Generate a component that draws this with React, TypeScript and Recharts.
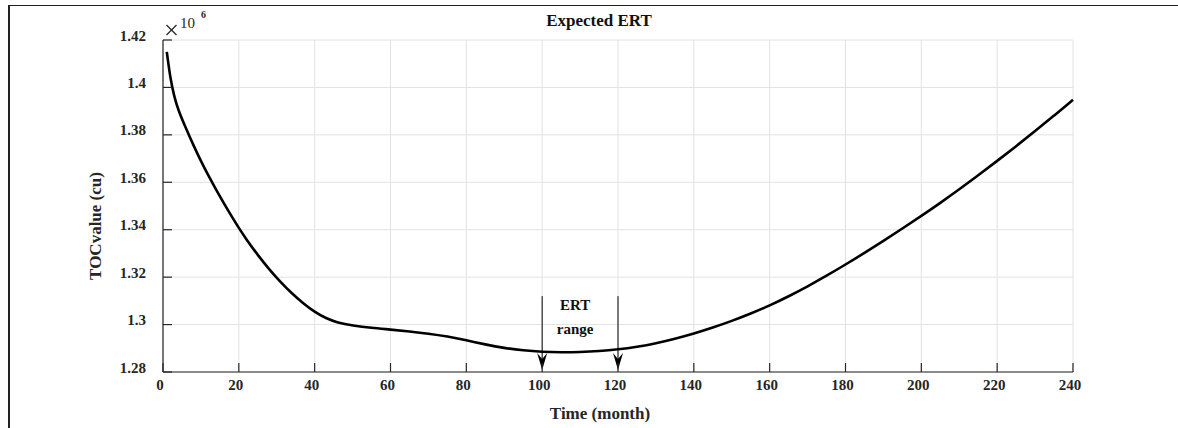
import React from 'react';
import { LineChart, Line, XAxis, YAxis, CartesianGrid, ReferenceLine, ReferenceDot } from 'recharts';

const months = [1, 2, 3, 4, 6, 8, 10, 12, 14, 16, 18, 20, 22, 25, 28, 31, 34, 37, 40, 43, 46, 50, 55, 60, 65, 70, 75, 80, 85, 90, 95, 100, 105, 110, 115, 120, 125, 130, 135, 140, 145, 150, 155, 160, 165, 170, 175, 180, 185, 190, 195, 200, 205, 210, 215, 220, 225, 230, 235, 240];
const tocValues = [1.4150, 1.4030, 1.3960, 1.3905, 1.3829, 1.3757, 1.3689, 1.3627, 1.3569, 1.3513, 1.3459, 1.3407, 1.3359, 1.3293, 1.3233, 1.3179, 1.3131, 1.3089, 1.3053, 1.3026, 1.3008, 1.2996, 1.2986, 1.2979, 1.2971, 1.2962, 1.2950, 1.2934, 1.2916, 1.2901, 1.2891, 1.2885, 1.2883, 1.2884, 1.2888, 1.2895, 1.2906, 1.2921, 1.2940, 1.2962, 1.2987, 1.3015, 1.3046, 1.3080, 1.3119, 1.3161, 1.3206, 1.3253, 1.3302, 1.3353, 1.3405, 1.3458, 1.3513, 1.3570, 1.3629, 1.3690, 1.3752, 1.3816, 1.3881, 1.3948];

const xTicks = [0, 20, 40, 60, 80, 100, 120, 140, 160, 180, 200, 220, 240];
const yTicks = [1.28, 1.30, 1.32, 1.34, 1.36, 1.38, 1.40, 1.42];
const yTickLabels = ['1.28', '1.3', '1.32', '1.34', '1.36', '1.38', '1.4', '1.42'];

const ertRange = [100, 120];
const arrowTop = 1.312;
const arrowTip = 1.2808;
const ertLabel = { x: 108.7, y: 1.3086, text: 'ERT' };
const rangeLabel = { x: 108.7, y: 1.2981, text: 'range' };

const data = months.map((m, i) => ({ month: m, toc: tocValues[i] }));

const FONT = '"Liberation Serif", "Times New Roman", serif';
const AXIS = '#262626';
const TICK_LEN = 9;

const BottomTick = (p: any) => {
  const { x, y, payload } = p;
  return (
    <g>
      <line x1={x} y1={y} x2={x} y2={y - TICK_LEN} stroke={AXIS} strokeWidth={1.2} />
      <text x={x - 3} y={y + 13} textAnchor="middle" dominantBaseline="central" fontFamily={FONT} fontWeight="bold" fontSize={15} fill="#262626">
        {payload.value}
      </text>
    </g>
  );
};
const TopTick = (p: any) => {
  const { x, y } = p;
  return <line x1={x} y1={y} x2={x} y2={y + TICK_LEN} stroke={AXIS} strokeWidth={1.2} />;
};
const LeftTick = (p: any) => {
  const { x, y, index } = p;
  return (
    <g>
      <line x1={x} y1={y} x2={x + TICK_LEN} y2={y} stroke={AXIS} strokeWidth={1.2} />
      <text x={x - 17} y={y - 4.5} textAnchor="end" dominantBaseline="central" fontFamily={FONT} fontWeight="bold" fontSize={15} fill="#262626">
        {yTickLabels[index]}
      </text>
    </g>
  );
};
const RightTick = (p: any) => {
  const { x, y } = p;
  return <line x1={x} y1={y} x2={x - TICK_LEN} y2={y} stroke={AXIS} strokeWidth={1.2} />;
};

const ArrowShape = (p: any) => {
  const { x1, y1, x2, y2 } = p;
  const x = x1;
  const tip = Math.max(y1, y2);
  const top = Math.min(y1, y2);
  return (
    <g>
      <line x1={x} y1={top} x2={x} y2={tip - 8} stroke="#000" strokeWidth={1} />
      <path d={`M${x},${tip} L${x - 5},${tip - 17} L${x},${tip - 11} L${x + 5},${tip - 17} Z`} fill="#000" />
    </g>
  );
};

const textLabel = (value: string) => ({
  value,
  position: 'center' as const,
  style: { fontFamily: FONT, fontWeight: 'bold', fontSize: 15, fill: '#111' },
});

export default function App() {
  return (
    <div style={{ position: 'relative', width: 1178, height: 428, overflow: 'hidden', background: '#fff' }}>
      <style>{`body{margin:0;overflow:hidden;background:#fff}`}</style>
      <div style={{ position: 'absolute', left: 7.5, top: 5, width: 1300, height: 600, borderTop: '1.8px solid #222', borderLeft: '2px solid #222' }} />
      <div style={{ position: 'absolute', left: 0, top: 0 }}>
        <LineChart width={1178} height={428} data={data} margin={{ top: 40, right: 105, bottom: 26, left: 103 }}>
          <CartesianGrid stroke="#e2e2e2" strokeWidth={1} horizontalValues={yTicks} verticalValues={xTicks} />
          <XAxis dataKey="month" type="number" domain={[0, 240]} ticks={xTicks} interval={0} height={30}
            tickLine={false} tickSize={0} tickMargin={0} axisLine={{ stroke: AXIS, strokeWidth: 1.2 }} tick={<BottomTick />} />
          <XAxis xAxisId="top" orientation="top" type="number" domain={[0, 240]} ticks={xTicks} interval={0} height={0}
            tickLine={false} tickSize={0} tickMargin={0} axisLine={{ stroke: AXIS, strokeWidth: 1.2 }} tick={<TopTick />} />
          <YAxis type="number" domain={[1.28, 1.42]} ticks={yTicks} interval={0} width={60}
            tickLine={false} tickSize={0} tickMargin={0} axisLine={{ stroke: AXIS, strokeWidth: 1.2 }} tick={<LeftTick />} />
          <YAxis yAxisId="right" orientation="right" type="number" domain={[1.28, 1.42]} ticks={yTicks} interval={0} width={0}
            tickLine={false} tickSize={0} tickMargin={0} axisLine={{ stroke: AXIS, strokeWidth: 1.2 }} tick={<RightTick />} />
          <Line type="basis" dataKey="toc" stroke="#000" strokeWidth={2.6} dot={false} isAnimationActive={false} />
          {ertRange.map((m) => (
            <ReferenceLine key={m} segment={[{ x: m, y: arrowTop }, { x: m, y: arrowTip }]} shape={ArrowShape} />
          ))}
          <ReferenceDot x={ertLabel.x} y={ertLabel.y} r={0} fill="none" stroke="none" label={textLabel(ertLabel.text)} />
          <ReferenceDot x={rangeLabel.x} y={rangeLabel.y} r={0} fill="none" stroke="none" label={textLabel(rangeLabel.text)} />
        </LineChart>
      </div>
      <svg width={1178} height={428} style={{ position: 'absolute', left: 0, top: 0, pointerEvents: 'none' }}>
        <text x={599} y={20} textAnchor="middle" dominantBaseline="central" fontFamily={FONT} fontWeight="bold" fontSize={17} fill="#111">Expected ERT</text>
        <text x={600} y={413} textAnchor="middle" dominantBaseline="central" fontFamily={FONT} fontWeight="bold" fontSize={17} fill="#262626">Time (month)</text>
        <text x={0} y={0} transform="translate(95,226) rotate(-90)" textAnchor="middle" dominantBaseline="central" fontFamily={FONT} fontWeight="bold" fontSize={17} fill="#262626">TOCvalue (cu)</text>
        <line x1={166.5} y1={25} x2={176.5} y2={35} stroke="#262626" strokeWidth={1.2} />
        <line x1={166.5} y1={35} x2={176.5} y2={25} stroke="#262626" strokeWidth={1.2} />
        <text x={180} y={23} dominantBaseline="central" fontFamily={FONT} fontSize={15} fill="#262626">10</text>
        <text x={203.5} y={14.5} textAnchor="middle" dominantBaseline="central" fontFamily={FONT} fontWeight="bold" fontSize={10} fill="#262626">6</text>
      </svg>
    </div>
  );
}
